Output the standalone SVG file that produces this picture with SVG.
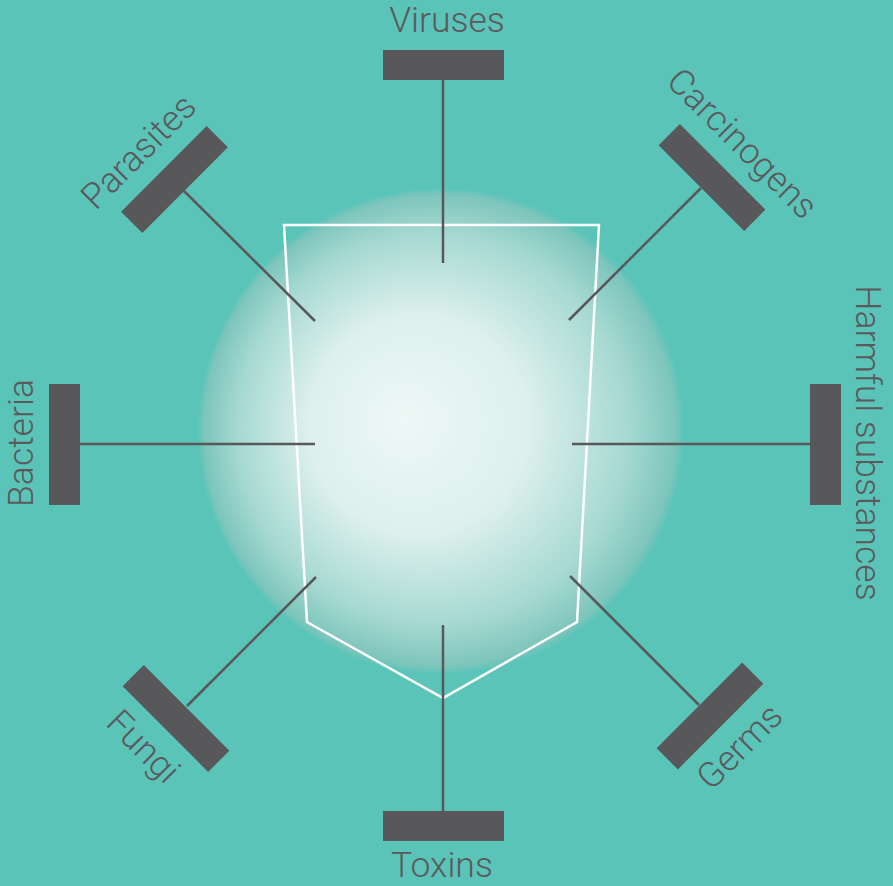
<svg xmlns="http://www.w3.org/2000/svg" width="893" height="886" viewBox="0 0 893 886">
<defs>
<radialGradient id="glow" cx="441" cy="431" r="243" fx="400" fy="420" gradientUnits="userSpaceOnUse">
<stop offset="0" stop-color="#EEF8F6"/>
<stop offset="0.45" stop-color="#DDF0EC"/>
<stop offset="0.8" stop-color="#A6D9D2"/>
<stop offset="0.97" stop-color="#7DC5BC"/>
<stop offset="1" stop-color="#5BC4B9"/>
</radialGradient>
</defs>
<style>
.bar{fill:#58585A}
.ln{stroke:#58585A;stroke-width:2.5;fill:none}
.lbl{font-family:Roboto,"Liberation Sans",sans-serif;font-weight:300;font-size:35.5px;fill:#5A5A5C;text-anchor:middle}
</style>
<rect width="893" height="886" fill="#5BC4B9"/>
<circle id="glow-circle" cx="441" cy="431" r="243" fill="url(#glow)"/>
<polygon id="shield" points="284,225 599,225 577,622 443,698 307,622" fill="none" stroke="#FFFFFF" stroke-width="2.5"/>
<g id="connectors">
<line class="ln" x1="443" y1="80" x2="443" y2="263"/>
<line class="ln" x1="443" y1="625" x2="443" y2="811"/>
<line class="ln" x1="80" y1="444" x2="315" y2="444"/>
<line class="ln" x1="572" y1="444" x2="810" y2="444"/>
<line class="ln" x1="184" y1="191" x2="315" y2="321"/>
<line class="ln" x1="701" y1="188" x2="569" y2="320"/>
<line class="ln" x1="699" y1="705" x2="570" y2="576"/>
<line class="ln" x1="187" y1="706" x2="316" y2="577"/>
</g>
<g id="viruses">
<rect class="bar" x="383" y="50" width="121" height="30"/>
<text class="lbl" x="447" y="32">Viruses</text>
</g>
<g id="toxins">
<rect class="bar" x="383" y="811" width="121" height="30"/>
<text class="lbl" x="442" y="877">Toxins</text>
</g>
<g id="bacteria">
<rect class="bar" x="49" y="384" width="31" height="121"/>
<text class="lbl" transform="translate(33,443) rotate(-90)">Bacteria</text>
</g>
<g id="harmful-substances">
<rect class="bar" x="810" y="384" width="31" height="121"/>
<text class="lbl" transform="translate(856,443) rotate(90)">Harmful substances</text>
</g>
<g id="parasites">
<rect class="bar" x="-60.5" y="-15" width="121" height="30" transform="translate(174.5,179.5) rotate(-45)"/>
<text class="lbl" transform="translate(147,160) rotate(-45)">Parasites</text>
</g>
<g id="carcinogens">
<rect class="bar" x="-60.5" y="-15" width="121" height="30" transform="translate(712,177.5) rotate(45)"/>
<text class="lbl" transform="translate(734,152) rotate(45)">Carcinogens</text>
</g>
<g id="germs">
<rect class="bar" x="-60.5" y="-15" width="121" height="30" transform="translate(710,716) rotate(-45)"/>
<text class="lbl" transform="translate(748,755) rotate(-45)">Germs</text>
</g>
<g id="fungi">
<rect class="bar" x="-60.5" y="-15" width="121" height="30" transform="translate(176,718.5) rotate(45)"/>
<text class="lbl" transform="translate(135,755) rotate(45)">Fungi</text>
</g>
</svg>
